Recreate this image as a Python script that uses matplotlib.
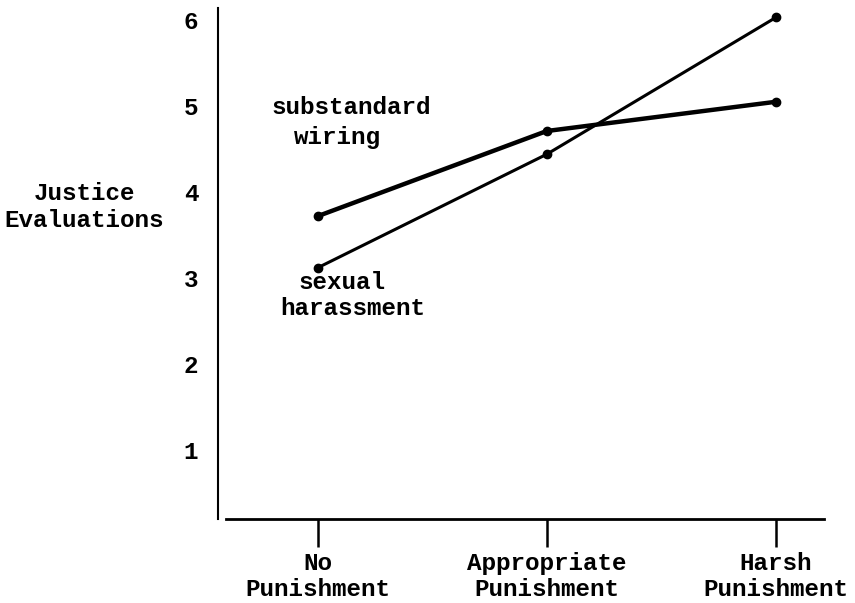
import matplotlib.pyplot as plt

# 数据
conditions = ['No\nPunishment', 'Appropriate\nPunishment', 'Harsh\nPunishment']
wiring = [3.72, 4.71, 5.05]
harassment = [3.12, 4.44, 6.03]
y_ticks = [1, 2, 3, 4, 5, 6]

font = 'Liberation Mono'
fs = 17.5

fig = plt.figure(figsize=(8.55, 6.03), dpi=100)
# 坐标区: x 226..824 px, y 8..519 px
ax = fig.add_axes([226 / 855, 1 - 519 / 603, (824 - 226) / 855, (519 - 8) / 603])

x = list(range(len(conditions)))
ax.plot(x, wiring, color='k', linewidth=3.2, marker='o', markersize=6)
ax.plot(x, harassment, color='k', linewidth=2.2, marker='o', markersize=6)

ax.set_xlim(-0.40, 2.21)
ax.set_ylim(0.2, 6.14)

ax.spines['top'].set_visible(False)
ax.spines['right'].set_visible(False)
ax.spines['left'].set_position(('outward', 6))
ax.spines['left'].set_linewidth(1.5)
ax.spines['bottom'].set_linewidth(2.0)

ax.set_xticks(x)
ax.set_xticklabels(conditions, fontfamily=font, fontweight='bold', fontsize=fs,
                   linespacing=1.15)
ax.tick_params(axis='x', length=20, width=1.8, pad=4, direction='out')
ax.set_yticks(y_ticks)
ax.set_yticklabels([str(v) for v in y_ticks], fontfamily=font, fontweight='bold', fontsize=fs)
ax.tick_params(axis='y', length=0, pad=14)

# 标签
kw = dict(ha='center', va='center', fontfamily=font, fontweight='bold', fontsize=fs)
ax.text(0.148, 4.98, 'substandard', **kw)
ax.text(0.087, 4.64, 'wiring', **kw)
ax.text(0.105, 2.95, 'sexual', **kw)
ax.text(0.153, 2.65, 'harassment', **kw)

fig.text(84 / 855, 1 - 207 / 603, 'Justice\nEvaluations', ha='center', va='center',
         fontfamily=font, fontweight='bold', fontsize=fs, linespacing=1.25)

fig.savefig('out.png', dpi=100)
